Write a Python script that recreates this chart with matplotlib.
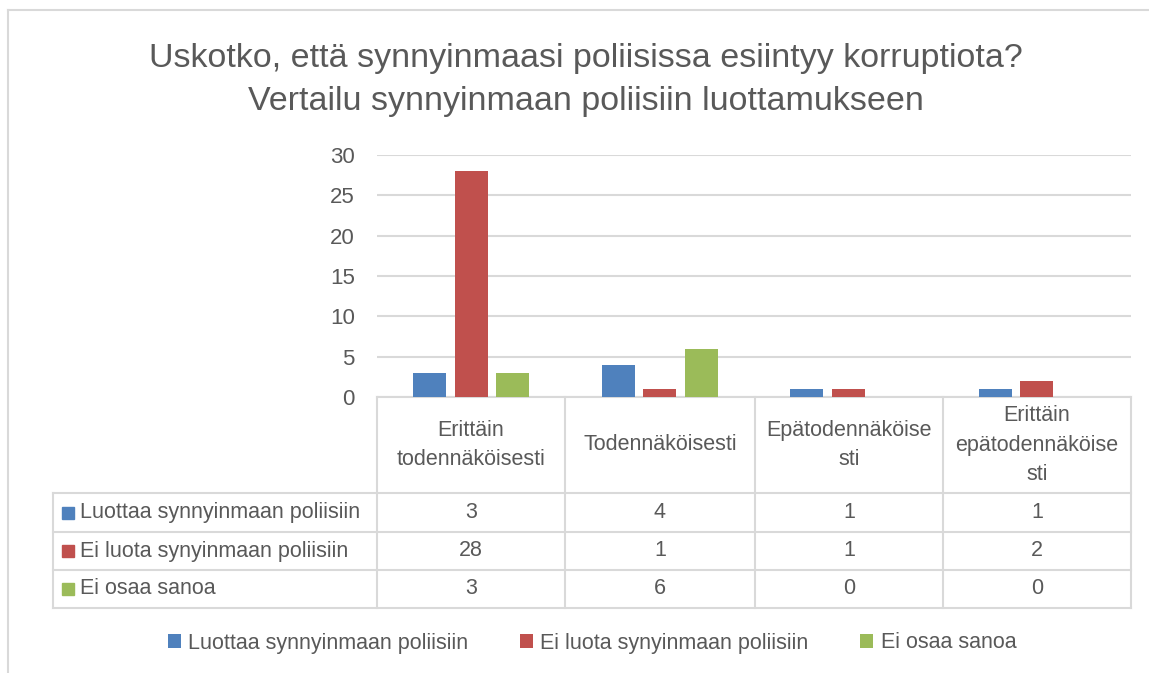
import matplotlib
matplotlib.use("Agg")
import matplotlib.pyplot as plt
from matplotlib.patches import Rectangle, Patch
from matplotlib.lines import Line2D

plt.rcParams['font.family'] = ['Liberation Sans', 'DejaVu Sans']

title = "Uskotko, että synnyinmaasi poliisissa esiintyy korruptiota?\nVertailu synnyinmaan poliisiin luottamukseen"
categories = ["Erittäin\ntodennäköisesti", "Todennäköisesti", "Epätodennäköise\nsti", "Erittäin\nepätodennäköise\nsti"]
series_names = ["Luottaa synnyinmaan poliisiin", "Ei luota synyinmaan poliisiin", "Ei osaa sanoa"]
luottaa = [3, 4, 1, 1]
ei_luota = [28, 1, 1, 2]
ei_osaa = [3, 6, 0, 0]
series_values = [luottaa, ei_luota, ei_osaa]
colors = ["#4F81BD", "#C0504D", "#9BBB59"]
yticks = [0, 5, 10, 15, 20, 25, 30]

TXT = "#595959"
GRID = "#D9D9D9"
W, H = 1149, 673
FS = 15.5
fig = plt.figure(figsize=(W / 100, H / 100), dpi=100)

# overlay axes in pixel coords
ov = fig.add_axes([0, 0, 1, 1])
ov.set_xlim(0, W)
ov.set_ylim(H, 0)
ov.axis('off')

# plot area
x0, x1, ytop, ybot = 377, 1131, 155, 397
ax = fig.add_axes([x0 / W, 1 - ybot / H, (x1 - x0) / W, (ybot - ytop) / H])
n = len(categories)
bw = 0.175
off = 0.22
for i, (vals, c) in enumerate(zip(series_values, colors)):
    xs = [k + (i - 1) * off for k in range(n)]
    ax.bar(xs, vals, width=bw, color=c, zorder=3)
ax.set_xlim(-0.5, n - 0.5)
ax.set_ylim(0, 30)
ax.set_yticks(yticks)
ax.set_yticklabels([str(t) for t in yticks], fontsize=16, color=TXT)
ax.tick_params(axis='y', length=0, pad=16)
ax.set_xticks([])
ax.grid(axis='y', color=GRID, linewidth=1.5, zorder=0)
for s in ax.spines.values():
    s.set_visible(False)
ax.patch.set_alpha(0)

# title
fig.text(586 / W, 1 - 80 / H, title, ha='center', va='center', fontsize=24.5,
         color=TXT, linespacing=1.5)

# chart border
ov.add_line(Line2D([8, W], [10, 10], color=GRID, lw=1.5))
ov.add_line(Line2D([8, 8], [10, H], color=GRID, lw=1.5))

# data table
col_x = [377, 565, 755, 943, 1131]
row_y = [397, 493, 532, 570, 608]
tleft = 53
ov.add_line(Line2D([col_x[0], col_x[-1]], [row_y[0], row_y[0]], color=GRID, lw=1.5))
for y in row_y[1:]:
    ov.add_line(Line2D([tleft, col_x[-1]], [y, y], color=GRID, lw=1.5))
for x in col_x:
    ov.add_line(Line2D([x, x], [row_y[0], row_y[-1]], color=GRID, lw=1.5))
ov.add_line(Line2D([tleft, tleft], [row_y[1], row_y[-1]], color=GRID, lw=1.5))

for k, cat in enumerate(categories):
    cx = (col_x[k] + col_x[k + 1]) / 2
    cy = (row_y[0] + row_y[1]) / 2
    ov.text(cx, cy, cat, ha='center', va='center', fontsize=FS, color=TXT, linespacing=1.55)

for r, (name, vals, c) in enumerate(zip(series_names, series_values, colors)):
    cy = (row_y[r + 1] + row_y[r + 2]) / 2
    ov.add_patch(Rectangle((62, cy - 6), 12, 12, color=c))
    ov.text(80, cy, name, ha='left', va='center', fontsize=FS, color=TXT)
    for k, v in enumerate(vals):
        cx = (col_x[k] + col_x[k + 1]) / 2
        ov.text(cx, cy, str(v), ha='center', va='center', fontsize=FS, color=TXT)

# legend
handles = [Patch(facecolor=c, edgecolor='none') for c in colors]
fig.legend(handles, series_names, loc='center', bbox_to_anchor=(592 / W, 1 - 643 / H),
           ncol=3, frameon=False, fontsize=FS, labelcolor=TXT,
           handlelength=0.6, handleheight=0.6, handletextpad=0.35, columnspacing=2.4)

fig.savefig("out.png", dpi=100)
